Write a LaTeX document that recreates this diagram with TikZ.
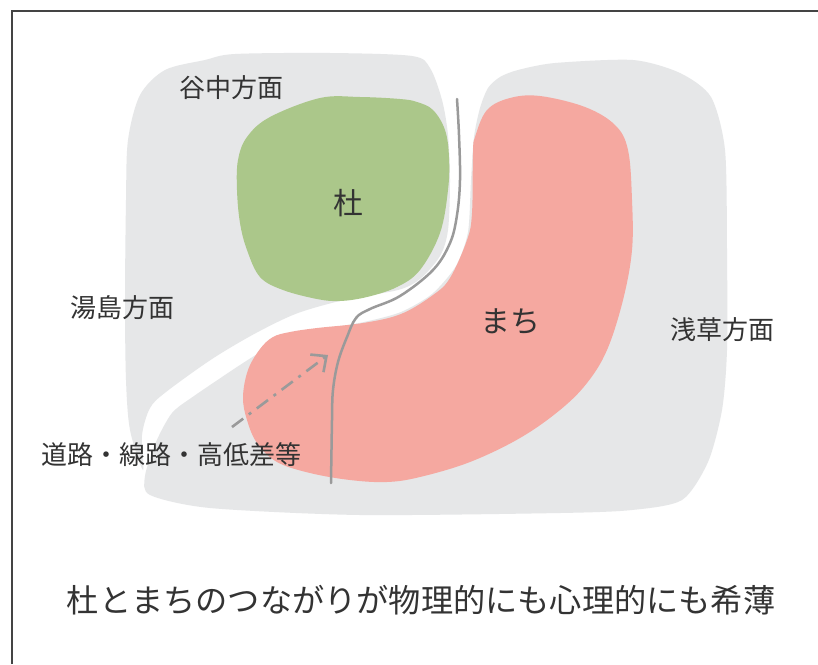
\documentclass[tikz,border=0pt]{standalone}
\usepackage{fontspec}
\newfontfamily\jp{Noto Sans CJK JP}
\usetikzlibrary{arrows.meta}
\definecolor{areagray}{HTML}{E6E7E8}
\definecolor{forestgreen}{HTML}{ABC78A}
\definecolor{townpink}{HTML}{F5A8A0}
\definecolor{roadgray}{HTML}{9A9A9A}
\definecolor{txt}{HTML}{333333}
\definecolor{framec}{HTML}{444444}
\tikzset{
  areafill/.style={fill=areagray, draw=none},
  forestfill/.style={fill=forestgreen, draw=none},
  townfill/.style={fill=townpink, draw=none},
  roadline/.style={draw=roadgray, line width=2.5pt, line cap=round},
  arrowline/.style={draw=roadgray, line width=2.6pt, dash pattern=on 14pt off 7pt on 3pt off 7pt,
     -{Straight Barb[length=12pt,width=22pt,line width=2.6pt]}},
  lab/.style={font=\jp\fontsize{26}{31}\selectfont, text=txt, inner sep=0pt},
  biglab/.style={font=\jp\fontsize{30}{36}\selectfont, text=txt, inner sep=0pt},
  titlelab/.style={font=\jp\fontsize{32.2}{38}\selectfont, text=txt, inner sep=0pt},
}
\begin{document}
\begin{tikzpicture}[x=1pt,y=-1pt]
\useasboundingbox (0,0) rectangle (818,664);
\fill[white] (0,0) rectangle (818,664);
% frame
\draw[framec, line width=1.6pt] (12,664) -- (12,11) -- (818,11);
% left gray area
\fill[areafill] plot[smooth cycle, tension=0.5] coordinates {
 (143,470) (130,430) (126,380) (125,300) (126,200) (128,140) (140,95) (165,70) (205,60) (235,54)
 (330,53) (412,56) (430,68) (442,100) (448,135) (450,180) (448,230) (440,256) (420,279) (398,290)
 (348,299) (298,313) (256,333) (212,359) (166,392) (150,408) (142,435)};
% right gray area
\fill[areafill] plot[smooth cycle, tension=0.45] coordinates {
 (145,476) (156,442) (172,413) (194,396) (240,365) (264,350) (287,338) (318,330) (364,322)
 (401,312) (432,294) (456,266) (468,232) (471,180) (474,137) (480,108) (488,88) (500,77)
 (518,70) (555,63) (633,60) (680,73) (711,97) (725,150) (727,250) (727,350) (722,410)
 (708,462) (682,500) (632,510) (560,513) (360,515) (210,508) (150,495)};
% forest
\fill[forestfill] plot[smooth cycle, tension=0.6] coordinates {
 (320,98) (270,117) (247,137) (238,160) (237,190) (240,223) (247,250) (260,277) (283,290)
 (317,299) (340,301) (367,297) (397,287) (420,270) (440,233) (448,190) (449,157) (445,130)
 (433,110) (417,102) (400,99) (360,97)};
% town
\fill[townfill] plot[smooth cycle, tension=0.6] coordinates {
 (475,137) (487,110) (510,98) (540,96) (585,107) (615,125) (628,150) (632,200) (632,250)
 (623,300) (607,350) (587,383) (560,410) (520,438) (470,462) (420,477) (387,482) (350,480)
 (310,473) (277,462) (257,443) (247,420) (243,397) (248,370) (260,349) (273,337) (290,332)
 (317,328) (363,323) (401,314) (433,295) (450,278) (467,240) (472,213) (473,153)};
% road
\draw[roadline] plot[smooth, tension=0.6] coordinates {
 (457,99) (459,135) (460,180) (457,215) (450,243) (433,270) (400,296) (370,309) (356,318)
 (347,337) (338,362) (333,390) (332,420) (331,483)};
% arrow
\coordinate (arrS) at (232,427);
\coordinate (arrE) at (328,355);
\draw[arrowline] (arrS) -- (arrE);
% labels
\node[lab] (yanaka) at (231,88) {谷中方面};
\node[lab] (yushima) at (122,308) {湯島方面};
\node[lab] (asakusa) at (722,330) {浅草方面};
\node[biglab] (mori) at (348,203) {杜};
\node[biglab] (machi) at (510,322) {まち};
\node[lab] (road) at (171,455) {道路・線路・高低差等};
\node[titlelab] (title) at (421,600) {杜とまちのつながりが物理的にも心理的にも希薄};
\end{tikzpicture}
\end{document}
